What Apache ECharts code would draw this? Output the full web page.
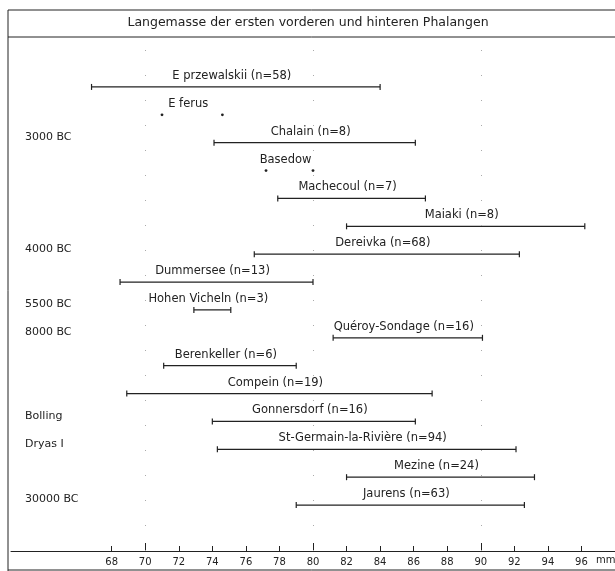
<!DOCTYPE html>
<html>
<head>
<meta charset="utf-8">
<script src="https://cdn.jsdelivr.net/npm/echarts@6/dist/echarts.min.js"></script>
<style>
  html, body { margin: 0; padding: 0; background: #fff; }
  #main { width: 615px; height: 571px; }
</style>
</head>
<body>
<div id="main"></div>
<script>
// sites / samples, top to bottom
const rowNames = [
  'E przewalskii (n=58)', 'E ferus', 'Chalain (n=8)', 'Basedow',
  'Machecoul (n=7)', 'Maiaki (n=8)', 'Dereivka (n=68)', 'Dummersee (n=13)',
  'Hohen Vicheln (n=3)', 'Quéroy-Sondage (n=16)', 'Berenkeller (n=6)', 'Compein (n=19)',
  'Gonnersdorf (n=16)', 'St-Germain-la-Rivière (n=94)', 'Mezine (n=24)', 'Jaurens (n=63)'
];
// range = line with end caps, points = two single values
const rowKind = [
  'range', 'points', 'range', 'points',
  'range', 'range', 'range', 'range',
  'range', 'range', 'range', 'range',
  'range', 'range', 'range', 'range'
];
const rangeMin = [66.8, 71.0, 74.1, 77.2, 77.9, 82.0, 76.5, 68.5, 72.9, 81.2, 71.1, 68.9, 74.0, 74.3, 82.0, 79.0];
const rangeMax = [84.0, 74.6, 86.1, 80.0, 86.7, 96.2, 92.3, 80.0, 75.1, 90.1, 79.0, 87.1, 86.1, 92.1, 93.2, 92.6];
const periodLabels = [
  '', '', '3000 BC', '', '', '', '4000 BC', '', '5500 BC', '8000 BC',
  '', '', 'Bolling', 'Dryas I', '', '30000 BC'
];
const tickValues = [68, 70, 72, 74, 76, 78, 80, 82, 84, 86, 88, 90, 92, 94, 96];
const majorTicks = [70, 80, 90];

const ink = '#222';
const font = '"DejaVu Sans", sans-serif';

const chart = echarts.init(document.getElementById('main'));

const option = {
  backgroundColor: '#fff',
  animation: false,
  title: {
    text: 'Langemasse der ersten vorderen und hinteren Phalangen',
    left: 303,
    top: 11,
    textAlign: 'center',
    textStyle: { fontFamily: font, fontSize: 12.5, fontWeight: 'normal', color: ink }
  },
  graphic: [
    { type: 'line', shape: { x1: 8, y1: 10, x2: 615, y2: 10 }, style: { stroke: ink, lineWidth: 1 } },
    { type: 'line', shape: { x1: 8, y1: 37, x2: 615, y2: 37 }, style: { stroke: ink, lineWidth: 1 } },
    { type: 'line', shape: { x1: 8, y1: 10, x2: 8, y2: 571 }, style: { stroke: ink, lineWidth: 1 } },
    { type: 'line', shape: { x1: 8, y1: 570, x2: 615, y2: 570 }, style: { stroke: ink, lineWidth: 1 } },
    { type: 'text', left: 596, top: 555, style: { text: 'mm', fontFamily: font, fontSize: 10, fill: ink } }
  ],
  grid: [
    { left: 11, right: 0, top: 40, bottom: 20 },
    { left: 11, right: 0, top: 73, bottom: 52 }
  ],
  xAxis: [
    {
      type: 'value', gridIndex: 0, min: 62, max: 98,
      axisLine: { lineStyle: { color: ink, width: 1 } },
      axisTick: { inside: true, length: 5, customValues: tickValues, lineStyle: { color: ink } },
      axisLabel: { customValues: tickValues, fontFamily: font, fontSize: 10, color: ink, margin: 6 },
      splitLine: { show: false }
    },
    {
      type: 'value', gridIndex: 0, min: 62, max: 98, position: 'bottom',
      axisLine: { show: false },
      axisTick: { inside: true, length: 8, customValues: majorTicks, lineStyle: { color: ink } },
      axisLabel: { show: false },
      splitLine: { show: false }
    },
    {
      type: 'value', gridIndex: 1, min: 62, max: 98, show: false
    }
  ],
  yAxis: [
    { type: 'value', gridIndex: 0, min: 0, max: 1, show: false },
    {
      type: 'category', gridIndex: 1, inverse: true, data: periodLabels,
      axisLine: { show: false },
      axisTick: { show: false },
      axisLabel: {
        inside: true, margin: 14, align: 'left', verticalAlign: 'bottom', interval: 0,
        fontFamily: font, fontSize: 11, color: ink
      },
      splitLine: { show: false }
    }
  ],
  series: [
    {
      type: 'line', xAxisIndex: 0, yAxisIndex: 0, data: [],
      markLine: {
        silent: true, symbol: 'none', label: { show: false },
        lineStyle: { color: '#aaa', width: 1, type: [1, 24] },
        data: majorTicks.map(v => ({ xAxis: v }))
      }
    },
    {
      type: 'custom', xAxisIndex: 2, yAxisIndex: 1,
      data: rowNames.map((n, i) => [i, rangeMin[i], rangeMax[i]]),
      encode: { x: [1, 2], y: 0 },
      renderItem(params, api) {
        const i = params.dataIndex;
        const a = api.coord([api.value(1), api.value(0)]);
        const b = api.coord([api.value(2), api.value(0)]);
        const y = a[1];
        const children = [];
        if (rowKind[i] === 'range') {
          children.push({ type: 'line', shape: { x1: a[0], y1: y, x2: b[0], y2: y }, style: { stroke: ink, lineWidth: 1.2 } });
          children.push({ type: 'line', shape: { x1: a[0], y1: y - 3, x2: a[0], y2: y + 3 }, style: { stroke: ink, lineWidth: 1.2 } });
          children.push({ type: 'line', shape: { x1: b[0], y1: y - 3, x2: b[0], y2: y + 3 }, style: { stroke: ink, lineWidth: 1.2 } });
        } else {
          children.push({ type: 'circle', shape: { cx: a[0], cy: y, r: 1.4 }, style: { fill: ink } });
          children.push({ type: 'circle', shape: { cx: b[0], cy: y, r: 1.4 }, style: { fill: ink } });
        }
        children.push({
          type: 'text',
          x: (a[0] + b[0]) / 2 - 4,
          y: y - 11,
          style: {
            text: rowNames[i], fontFamily: font, fontSize: 11.5, fill: ink,
            align: 'center', verticalAlign: 'middle'
          }
        });
        return { type: 'group', children };
      }
    }
  ]
};

chart.setOption(option);
</script>
</body>
</html>
